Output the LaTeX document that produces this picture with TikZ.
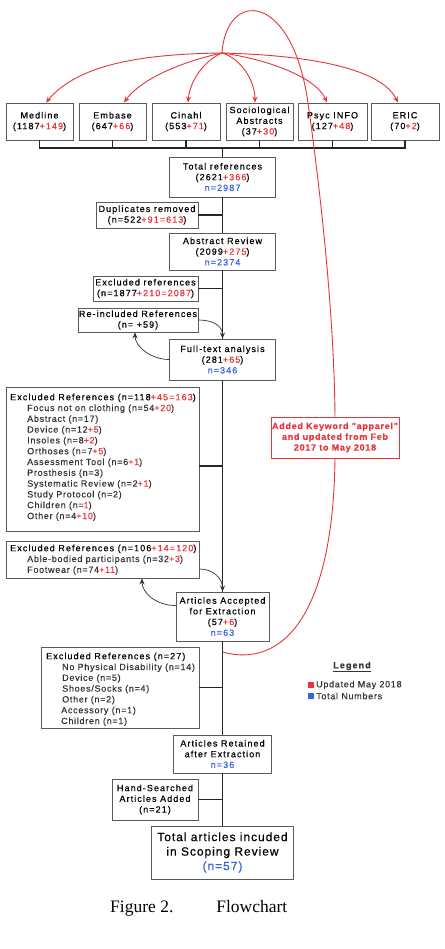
\documentclass[tikz,border=0pt]{standalone}
\usepackage{fontspec}
\setmainfont{Liberation Serif}
\newfontfamily\af[LetterSpace=8,FakeBold=0.25]{Liberation Sans}
\newfontfamily\tf[LetterSpace=8,FakeBold=0.45]{Liberation Sans}
\newfontfamily\hf[LetterSpace=12,FakeBold=0.45]{Liberation Sans}
\usetikzlibrary{arrows.meta}
\definecolor{ured}{HTML}{E8343A}
\definecolor{ublue}{HTML}{3A63DC}
\definecolor{bgray}{HTML}{5A5A5A}
\definecolor{tgray}{HTML}{333333}
\newcommand{\rd}[1]{\textcolor{ured}{#1}}
\newcommand{\bl}[1]{\textcolor{ublue}{#1}}
\begin{document}
\begin{tikzpicture}[x=1pt,y=-1pt,
  box/.style={draw=bgray, line width=0.9pt, fill=white, inner sep=0pt, align=center, text=black, font=\hf\fontsize{9}{10.7}\selectfont},
  sz/.style 2 args={minimum width=#1pt, minimum height=#2pt},
  conn/.style={draw=black!85, line width=1.1pt},
  redarr/.style={draw=ured, line width=0.9pt, -{Stealth[length=6pt,width=5pt]}},
  blkarr/.style={draw=black!80, line width=0.7pt, -{Stealth[length=6pt,width=5pt]}},
  lst/.style={anchor=north west, inner sep=0pt, align=left, font=\af\fontsize{9}{10.8}\selectfont, text=tgray},
  legtx/.style={anchor=west, inner sep=0pt, font=\af\fontsize{9}{10}\selectfont, text=tgray}]
\fill[white] (0,0) rectangle (444,949);
\useasboundingbox (0,0) rectangle (444,949);

% databases
\node[box,sz={67}{37}] (med) at (39.5,121.5) {Medline\\(1187\rd{+149})};
\node[box,sz={67}{37}] (emb) at (112.5,121.5) {Embase\\(647\rd{+66})};
\node[box,sz={68}{37}] (cin) at (186,121.5) {Cinahl\\(553\rd{+71})};
\node[box,sz={67}{37}] (soc) at (259.5,121.5) {Sociological\\Abstracts\\(37\rd{+30})};
\node[box,sz={69}{37}] (psy) at (332.5,121.5) {Psyc INFO\\(127\rd{+48})};
\node[box,sz={68}{37}] (eri) at (405,121.5) {ERIC\\(70\rd{+2})};

% main flow
\node[box,sz={106}{40}] (totref) at (222.5,177) {Total references\\(2621\rd{+366})\\\bl{n=2987}};
\node[box,sz={102}{26}] (dup) at (147,215) {Duplicates removed\\(n=522\rd{+91=613})};
\node[box,sz={106}{37}] (absrev) at (222.5,251.5) {Abstract Review\\(2099\rd{+275})\\\bl{n=2374}};
\node[box,sz={105}{25}] (exref) at (145.5,288.5) {Excluded references\\(n=1877\rd{+210=2087})};
\node[box,sz={120}{24}] (reincl) at (138,320) {Re-included References\\(n= +59)};
\node[box,sz={106}{41}] (fulltext) at (222.5,359.5) {Full-text analysis\\(281\rd{+65})\\\bl{n=346}};
\node[box,sz={193}{144}] (bigex) at (102.5,459) {};
\node[lst] (bigtx) at (10,393.5) {\textcolor{black}{\hf Excluded References (n=118\rd{+45=163})}\\
\hspace*{17pt}Focus not on clothing (n=54\rd{+20})\\
\hspace*{17pt}Abstract (n=17)\\
\hspace*{17pt}Device (n=12\rd{+5})\\
\hspace*{17pt}Insoles (n=8\rd{+2})\\
\hspace*{17pt}Orthoses (n=7\rd{+5})\\
\hspace*{17pt}Assessment Tool (n=6\rd{+1})\\
\hspace*{17pt}Prosthesis (n=3)\\
\hspace*{17pt}Systematic Review (n=2\rd{+1})\\
\hspace*{17pt}Study Protocol (n=2)\\
\hspace*{17pt}Children (n=\rd{1})\\
\hspace*{17pt}Other (n=4\rd{+10})};
\node[box,sz={128}{41},draw=ured,text=ured,font=\af\bfseries\fontsize{9}{10.7}\selectfont] (kw) at (335,437.5) {Added Keyword "apparel"\\and updated from Feb\\2017 to May 2018};
\node[box,sz={193}{37}] (ex106) at (102.5,559.5) {};
\node[lst] (ex106tx) at (10,544.5) {\textcolor{black}{\hf Excluded References (n=106\rd{+14=120})}\\
\hspace*{17pt}Able-bodied participants (n=32\rd{+3})\\
\hspace*{17pt}Footwear (n=74\rd{+11})};
\node[box,sz={93}{49}] (accepted) at (222.5,616.5) {Articles Accepted\\for Extraction\\(57\rd{+6})\\\bl{n=63}};
\node[box,sz={158}{81}] (ex27) at (120,687.5) {};
\node[lst] (ex27tx) at (46,652.5) {\textcolor{black}{\hf Excluded References (n=27)}\\
\hspace*{16pt}No Physical Disability (n=14)\\
\hspace*{16pt}Device (n=5)\\
\hspace*{16pt}Shoes/Socks (n=4)\\
\hspace*{16pt}Other (n=2)\\
\hspace*{15pt}Accessory (n=1)\\
\hspace*{15pt}Children (n=1)};
\node[box,sz={98}{38}] (retained) at (222.5,754) {Articles Retained\\after Extraction\\\bl{n=36}};
\node[box,sz={86}{41}] (hand) at (155,799.5) {Hand-Searched\\Articles Added\\(n=21)};
\node[box,sz={142}{53},font=\tf\fontsize{12}{14.5}\selectfont] (total) at (222.5,852.5) {Total articles incuded\\in Scoping Review\\\bl{(n=57)}};

% connectors
\coordinate (bar) at (222.5,148);
\foreach \n in {med,emb,cin,soc,psy,eri} \draw[conn] (\n.south) |- (bar);
\draw[conn] (bar) -- (totref.north);
\draw[conn] (totref) -- (absrev);
\draw[conn] (absrev) -- (fulltext);
\draw[conn] (fulltext) -- (accepted);
\draw[conn] (accepted) -- (retained);
\draw[conn] (retained) -- (total);
\draw[conn] (dup) -- (dup -| totref);
\draw[conn] (exref) -- (exref -| totref);
\draw[conn] ([yshift=-7pt]bigex.east) -- ([yshift=-7pt]bigex.east -| fulltext);
\draw[conn] (ex27) -- (ex27 -| accepted);
\draw[conn] (hand) -- (hand -| retained);

\draw[blkarr] (reincl.east) .. controls +(14,0) and +(0,-13) .. (fulltext.north);
\draw[blkarr] (fulltext.west) .. controls +(-18,0) and +(0,14) .. ([xshift=-3pt]reincl.south);
\draw[blkarr] ([yshift=-9.5pt]ex106.east) .. controls +(14,0) and +(0,-13) .. (accepted.north);
\draw[blkarr] ([yshift=11pt]accepted.west) .. controls +(-20,0) and +(0,14) .. ([xshift=39.5pt]ex106.south);

% red arrows
\coordinate (hub) at (222,53);
\coordinate (redend) at (222.5,652);
\draw[redarr] (hub) .. controls (150,54) and (80,62) .. ([xshift=6.5pt]med.north);
\draw[redarr] (hub) .. controls (180,62) and (140,80) .. ([xshift=11.5pt]emb.north);
\draw[redarr] (hub) .. controls (205,60) and (190,80) .. ([xshift=2pt]cin.north);
\draw[redarr] (hub) .. controls (240,58) and (255,80) .. ([xshift=-4.5pt]soc.north);
\draw[redarr] (hub) .. controls (260,58) and (315,75) .. ([xshift=-5.5pt]psy.north);
\draw[redarr] (hub) .. controls (300,55) and (380,66) .. ([xshift=-7pt]eri.north);
\draw[draw=ured, line width=0.9pt] (hub) .. controls (226,-10) and (292,-10) .. (308,103)
   .. controls (316.5,163) and (334,300) .. (kw.north);
\draw[draw=ured, line width=0.9pt] (kw.south) .. controls (333,620) and (280,668) .. (redend);

% legend
\node[inner sep=0pt, font=\hf\bfseries\fontsize{9}{10}\selectfont, text=tgray] (leg) at (352,667) {\underline{Legend}};
\node[fill=ured, minimum size=6pt, inner sep=0pt] (rsq) at (310.5,685) {};
\node[legtx] (rtx) at (316,685) {Updated May 2018};
\node[fill=ublue, minimum size=6pt, inner sep=0pt] (bsq) at (310.5,696) {};
\node[legtx] (btx) at (316,696) {Total Numbers};

% caption
\node[anchor=west, inner sep=0pt, font=\fontsize{17.5}{20}\selectfont] (cap) at (110,908) {Figure 2.\hspace{43pt}Flowchart};
\end{tikzpicture}
\end{document}
